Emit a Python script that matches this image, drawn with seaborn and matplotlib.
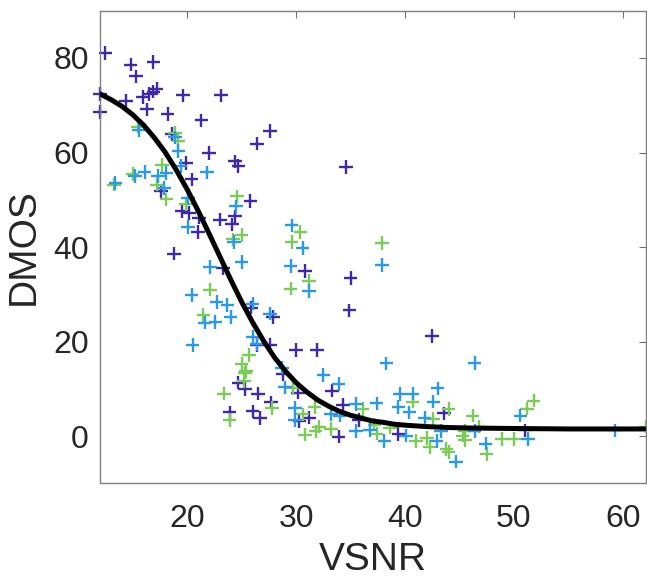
import numpy as np
import pandas as pd
import matplotlib
matplotlib.use('Agg')
import matplotlib.pyplot as plt
import seaborn as sns

# Scatter points (VSNR, DMOS), one list per group
purple_x = [12.5, 14.8, 16.9, 15.3, 12.0, 14.4, 15.9, 16.5, 16.9, 17.2, 19.6, 23.1, 12.0, 16.3, 18.2,
            21.3, 27.6, 26.4, 18.6, 22.0, 19.9, 24.4, 24.7, 20.4, 25.8, 17.6, 19.5, 20.2, 21.1, 23.0,
            24.4, 24.1, 21.0, 18.8, 23.3, 25.9, 27.9, 26.4, 27.6, 24.7, 25.3, 26.5, 27.7, 23.9, 26.0,
            26.7, 28.8, 34.6, 30.8, 35.0, 34.9, 42.5, 30.0, 31.9, 30.2, 33.3, 34.3, 31.2, 30.3, 35.8,
            33.9, 39.4, 43.6, 51.0]
purple_y = [81.0, 78.6, 79.1, 76.1, 72.4, 71.0, 71.7, 72.4, 72.9, 73.5, 72.1, 72.1, 68.6, 69.1, 68.2,
            66.8, 64.6, 61.9, 63.9, 59.9, 57.8, 58.1, 57.1, 54.3, 49.7, 51.8, 47.6, 47.2, 46.2, 45.8,
            46.5, 44.8, 43.2, 38.6, 35.6, 27.2, 25.2, 19.3, 19.3, 11.3, 9.9, 9.0, 7.1, 5.0, 5.2,
            3.8, 13.1, 56.9, 34.9, 33.5, 26.6, 21.2, 18.2, 18.2, 9.2, 9.6, 6.6, 3.9, 3.2, 3.4,
            -0.1, 0.4, 4.8, 1.2]

blue_x = [15.6, 19.2, 18.9, 21.8, 16.1, 15.2, 13.4, 17.3, 18.1, 19.4, 17.9, 24.5, 20.1, 20.1, 24.3,
          22.1, 25.0, 20.4, 22.7, 23.7, 26.0, 21.6, 22.6, 24.0, 27.6, 20.5, 26.0, 26.4, 28.7, 29.0,
          29.6, 30.6, 29.5, 31.2, 37.9, 38.3, 46.4, 32.5, 33.9, 29.9, 29.9, 33.2, 34.0, 35.5, 37.4,
          39.5, 40.7, 39.4, 40.4, 42.6, 43.0, 35.5, 36.8, 38.1, 40.1, 42.9, 41.8, 44.7, 43.3, 46.4,
          47.4, 50.6, 51.3, 59.3]
blue_y = [64.8, 60.3, 63.2, 55.8, 55.9, 55.0, 53.6, 55.0, 55.7, 57.1, 52.5, 48.6, 50.4, 44.2, 41.1,
          35.8, 36.8, 29.8, 28.4, 27.7, 28.0, 24.0, 24.1, 25.2, 25.9, 19.3, 21.0, 19.4, 14.5, 10.3,
          44.6, 39.8, 36.0, 30.7, 36.2, 15.4, 15.5, 12.9, 11.0, 6.0, 3.4, 4.6, 4.3, 6.8, 6.9,
          8.9, 9.0, 6.2, 5.0, 7.3, 10.1, 1.1, 1.3, -1.0, 0.1, -1.0, 3.9, -5.4, 1.1, 1.1,
          -1.6, 4.3, -0.6, 1.2]

green_x = [15.5, 18.9, 19.2, 17.7, 15.0, 17.2, 18.1, 24.6, 19.9, 13.3, 24.2, 25.0, 22.1, 21.5, 25.7,
           25.0, 25.3, 25.2, 25.4, 23.4, 27.8, 23.9, 30.4, 29.6, 37.9, 31.2, 29.5, 29.7, 31.7, 30.6,
           32.1, 30.8, 31.8, 33.2, 36.1, 37.2, 37.4, 38.6, 40.7, 41.0, 42.0, 42.3, 42.6, 43.8, 44.0,
           45.3, 46.2, 45.5, 45.5, 46.8, 47.5, 44.0, 48.9, 50.0, 51.2, 51.8, 62.1]
green_y = [65.5, 64.1, 62.4, 57.4, 55.5, 53.2, 50.1, 50.7, 49.0, 53.2, 41.6, 42.5, 31.0, 25.6, 17.2,
           15.2, 13.4, 11.7, 13.8, 9.0, 5.9, 3.4, 43.2, 41.1, 40.8, 32.9, 31.2, 10.1, 6.2, 4.6,
           2.0, 0.3, 1.0, 1.5, 5.7, 2.4, 0.5, 1.8, 7.3, -1.0, -0.4, -2.3, 3.6, -2.7, 5.7,
           0.1, 4.3, 1.1, -0.9, 2.0, -3.8, -3.4, -0.6, -0.6, 5.8, 7.5, 2.0]

# Fitted curve
curve_x = [12, 13, 14, 15, 16, 17, 18, 19, 20, 21, 22, 23, 24, 25, 26, 27, 28, 29, 30, 31, 32, 33,
           34, 35, 36, 37, 38, 39, 40, 42, 44, 46, 50, 55, 62]
curve_y = [72.4, 71.2, 69.8, 68.0, 65.8, 63.1, 60.0, 56.3, 52.2, 47.7, 42.9, 38.0, 33.1, 28.4, 24.1,
           20.2, 16.7, 13.8, 11.3, 9.3, 7.6, 6.3, 5.2, 4.4, 3.8, 3.2, 2.9, 2.5, 2.3, 2.0, 1.8, 1.7,
           1.6, 1.5, 1.5]

colors = {'a': '#4128a6', 'c': '#7ccb58', 'b': '#2b9ae6'}

df = pd.concat([
    pd.DataFrame({'VSNR': purple_x, 'DMOS': purple_y, 'grp': 'a'}),
    pd.DataFrame({'VSNR': green_x, 'DMOS': green_y, 'grp': 'c'}),
    pd.DataFrame({'VSNR': blue_x, 'DMOS': blue_y, 'grp': 'b'}),
], ignore_index=True)

sns.set_style('white')
plt.rcParams['font.family'] = ['Liberation Sans', 'DejaVu Sans']

fig = plt.figure(figsize=(6.47, 5.83), dpi=100)
ax = fig.add_axes([0.1546, 0.171, 0.8434, 0.8106])

sns.scatterplot(data=df, x='VSNR', y='DMOS', hue='grp', palette=colors, marker='+',
                s=95, linewidth=1.7, legend=False, ax=ax, zorder=2, clip_on=False)
sns.lineplot(x=curve_x, y=curve_y, color='black', linewidth=3.6, ax=ax, zorder=3)

ax.set_xlim(12, 62.1)
ax.set_ylim(-10, 90)
ax.set_xticks([20, 30, 40, 50, 60])
ax.set_yticks([0, 20, 40, 60, 80])
ax.tick_params(direction='in', top=True, right=True, length=5, width=0.8,
               color='#707070', labelcolor='#262626', labelsize=23)
ax.tick_params(axis='x', pad=15)
ax.tick_params(axis='y', pad=8)
for sp in ax.spines.values():
    sp.set_color('#808080')
    sp.set_linewidth(1.0)

ax.set_xlabel('VSNR', fontsize=28, color='#262626', labelpad=6)
ax.set_ylabel('DMOS', fontsize=28, color='#262626', labelpad=8)

fig.savefig('out.png', dpi=100)
